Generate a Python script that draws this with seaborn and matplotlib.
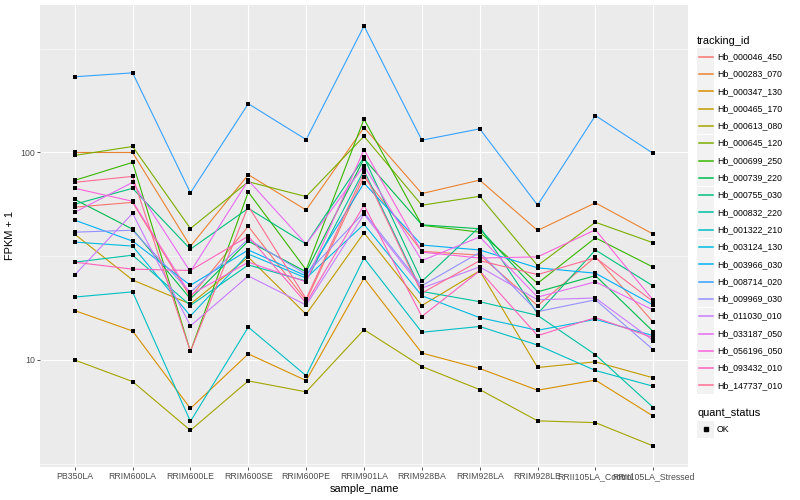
import numpy as np
import pandas as pd
import matplotlib
matplotlib.use('Agg')
import matplotlib.pyplot as plt
import seaborn as sns
from matplotlib.patches import Rectangle
from matplotlib.lines import Line2D

samples = ['PB350LA', 'RRIM600LA', 'RRIM600LE', 'RRIM600SE', 'RRIM600PE', 'RRIM901LA',
           'RRIM928BA', 'RRIM928LA', 'RRIM928LE', 'RRII105LA_Control', 'RRII105LA_Stressed']

# FPKM + 1, one list per gene, in sample order
Hb_000046_450 = [54.5, 57.5, 20.1, 44.1, 19.3, 76.3, 33.4, 32.0, 18.3, 31.4, 15.2]
Hb_000283_070 = [100, 100, 35.3, 78.2, 52.8, 131.9, 63.4, 73.6, 42.1, 57.2, 40.4]
Hb_000347_130 = [17.3, 13.8, 5.84, 10.7, 7.96, 24.8, 10.8, 9.1, 7.15, 8.0, 5.36]
Hb_000465_170 = [40.4, 24.3, 18.6, 31.3, 16.6, 41.0, 18.3, 26.9, 9.2, 9.8, 8.2]
Hb_000613_080 = [10.0, 7.87, 4.58, 7.93, 7.02, 14.0, 9.3, 7.2, 5.09, 4.99, 3.85]
Hb_000645_120 = [96.8, 106.9, 43.0, 72.3, 61.3, 119.7, 55.7, 61.5, 28.5, 46.1, 36.7]
Hb_000699_250 = [73.4, 89.6, 11.0, 64.5, 27.2, 144.9, 44.6, 41.3, 23.4, 38.8, 28.0]
Hb_000739_220 = [59.4, 42.7, 19.7, 37.4, 26.6, 93.3, 44.8, 42.9, 21.3, 25.5, 13.7]
Hb_000755_030 = [56.3, 67.2, 34.2, 53.8, 36.2, 94.6, 23.9, 43.9, 16.7, 33.9, 22.7]
Hb_000832_220 = [29.6, 32.0, 18.3, 28.7, 24.0, 82.0, 21.4, 19.1, 16.4, 10.6, 5.90]
Hb_001322_210 = [20.1, 21.3, 5.06, 14.4, 8.4, 31.0, 13.6, 14.5, 11.8, 8.9, 7.47]
Hb_003124_130 = [37.0, 35.4, 16.3, 32.4, 24.8, 45.1, 20.4, 16.0, 13.9, 15.7, 13.1]
Hb_003966_030 = [47.2, 37.4, 22.9, 33.9, 25.4, 71.2, 35.8, 33.9, 27.8, 26.2, 18.4]
Hb_008714_020 = [231.7, 242, 63.9, 171.8, 115.4, 407, 114.6, 130, 55.8, 150.7, 98.9]
Hb_009969_030 = [41.3, 42.2, 21.2, 38.2, 25.9, 51.4, 22.8, 33.0, 17.1, 19.5, 11.2]
Hb_011030_010 = [25.7, 50.9, 14.6, 25.4, 18.4, 50.4, 22.2, 28.1, 19.5, 19.9, 12.4]
Hb_033187_050 = [51.5, 71.8, 26.6, 73.4, 36.2, 86.3, 30.1, 39.2, 20.1, 23.8, 17.4]
Hb_056196_050 = [67.2, 58.2, 20.6, 29.6, 23.8, 103.3, 33.1, 31.0, 31.4, 42.4, 19.4]
Hb_093432_010 = [29.6, 27.4, 27.0, 39.5, 18.8, 55.7, 16.2, 26.9, 13.1, 16.0, 12.8]
Hb_147737_010 = [71.8, 76.7, 11.0, 55.2, 19.7, 80.2, 21.0, 30.1, 25.8, 31.1, 19.1]

genes = {
    'Hb_000046_450': Hb_000046_450, 'Hb_000283_070': Hb_000283_070,
    'Hb_000347_130': Hb_000347_130, 'Hb_000465_170': Hb_000465_170,
    'Hb_000613_080': Hb_000613_080, 'Hb_000645_120': Hb_000645_120,
    'Hb_000699_250': Hb_000699_250, 'Hb_000739_220': Hb_000739_220,
    'Hb_000755_030': Hb_000755_030, 'Hb_000832_220': Hb_000832_220,
    'Hb_001322_210': Hb_001322_210, 'Hb_003124_130': Hb_003124_130,
    'Hb_003966_030': Hb_003966_030, 'Hb_008714_020': Hb_008714_020,
    'Hb_009969_030': Hb_009969_030, 'Hb_011030_010': Hb_011030_010,
    'Hb_033187_050': Hb_033187_050, 'Hb_056196_050': Hb_056196_050,
    'Hb_093432_010': Hb_093432_010, 'Hb_147737_010': Hb_147737_010,
}
tracking_ids = list(genes.keys())

# ggplot hue palette, 20 levels
colors = ['#F8766D', '#EA8331', '#D89000', '#C09B00', '#A3A500', '#7CAE00', '#39B600',
          '#00BB4E', '#00BF7D', '#00C1A3', '#00BFC4', '#00BAE0', '#00B0F6', '#35A2FF',
          '#9590FF', '#C77CFF', '#E76BF3', '#FA62DB', '#FF62BC', '#FF6C91']
pal = dict(zip(tracking_ids, colors))

rows = []
for gid, vals in genes.items():
    for s, v in zip(samples, vals):
        rows.append((gid, s, v, 'OK'))
df = pd.DataFrame(rows, columns=['tracking_id', 'sample_name', 'fpkm', 'quant_status'])

plt.rcParams['font.family'] = ['Liberation Sans', 'DejaVu Sans']

W, H = 800, 500
fig = plt.figure(figsize=(8, 5), dpi=100)
ax = fig.add_axes([40 / W, 1 - 467 / H, 648 / W, 462 / H])
ax.set_facecolor('#EBEBEB')

sns.lineplot(df, x='sample_name', y='fpkm', hue='tracking_id', palette=pal,
             estimator=None, sort=False, lw=0.8, legend=False, ax=ax, zorder=2)
sns.scatterplot(df, x='sample_name', y='fpkm', color='black', marker='s', s=10,
                linewidth=0, legend=False, ax=ax, zorder=3)

ax.set_yscale('log')
lo, hi = np.log10(df.fpkm.min()), np.log10(df.fpkm.max())
pad = (hi - lo) * 0.05
ax.set_ylim(10 ** (lo - pad), 10 ** (hi + pad))
ax.set_xlim(-0.6, len(samples) - 0.4)
ax.set_yticks([10, 100])
ax.set_yticklabels(['10', '100'])
ax.set_yticks([10 ** 0.5, 10 ** 1.5, 10 ** 2.5], minor=True)
ax.yaxis.set_minor_formatter(matplotlib.ticker.NullFormatter())

ax.grid(which='major', color='white', lw=0.8)
ax.grid(which='minor', axis='y', color='white', lw=0.4)
ax.set_axisbelow(True)
for sp in ax.spines.values():
    sp.set_visible(False)
ax.tick_params(which='major', length=2.0, width=0.6, color='#333333',
               labelsize=6.3, labelcolor='#4D4D4D', pad=1.6)
ax.tick_params(which='minor', length=0)

ax.set_xlabel('sample_name', fontsize=7.9, labelpad=2)
ax.set_ylabel('FPKM + 1', fontsize=7.9, labelpad=4)

# legend drawn like ggplot's guide boxes
def fx(x):
    return x / W

def fy(y):
    return 1 - y / H

fig.text(fx(697), fy(40.7), 'tracking_id', fontsize=7.9, va='center', ha='left')
for i, gid in enumerate(tracking_ids):
    cy = 56.7 + 17.3 * i
    fig.add_artist(Rectangle((fx(697), fy(cy + 8.5)), 17 / W, 17 / H,
                             facecolor='#F2F2F2', edgecolor='none', zorder=1))
    fig.add_artist(Line2D([fx(698.5), fx(712.5)], [fy(cy), fy(cy)], color=pal[gid],
                          lw=1.1, zorder=3))
    fig.text(fx(717), fy(cy), gid, fontsize=6.3, va='center', ha='left')

fig.text(fx(697), fy(412.7), 'quant_status', fontsize=7.9, va='center', ha='left')
fig.add_artist(Rectangle((fx(697), fy(429 + 8.5)), 17 / W, 17 / H,
                         facecolor='#F2F2F2', edgecolor='none', zorder=1))
fig.add_artist(Line2D([fx(705.5)], [fy(429)], marker='s', markersize=3, color='black',
                      lw=0, zorder=3))
fig.text(fx(717), fy(429), 'OK', fontsize=6.3, va='center', ha='left')

fig.savefig('out.png', dpi=100)
